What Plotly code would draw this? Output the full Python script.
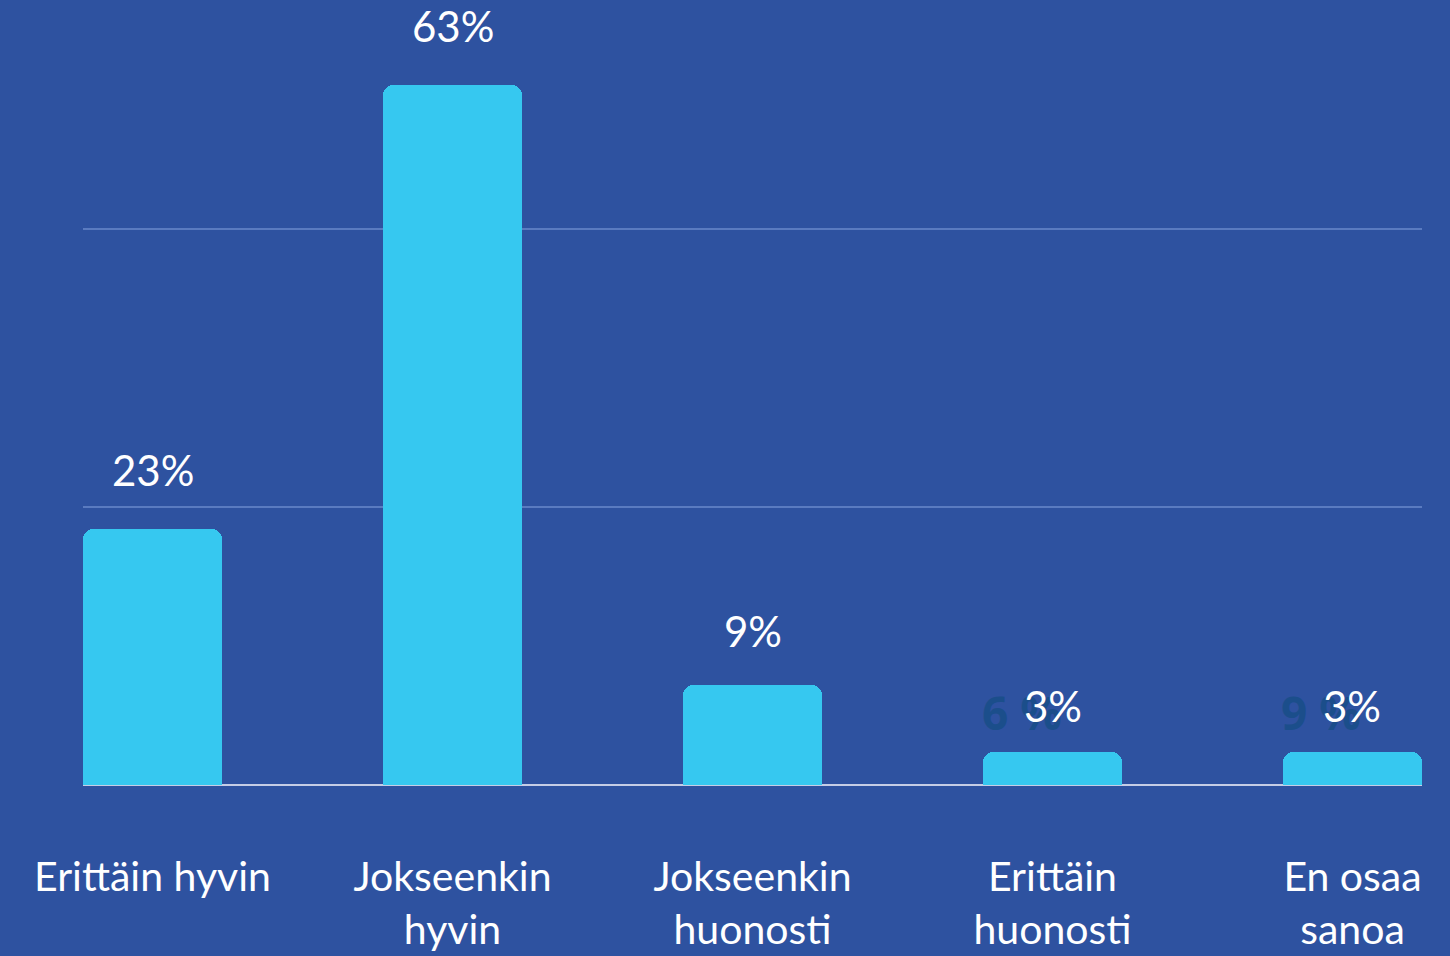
import plotly.graph_objects as go

categories = ["Erittäin hyvin", "Jokseenkin<br>hyvin", "Jokseenkin<br>huonosti",
              "Erittäin<br>huonosti", "En osaa<br>sanoa"]
values = [23, 63, 9, 3, 3]
labels = ["23%", "63%", "9%", "3%", "3%"]
# faint leftover labels visible behind the two smallest bars
ghost_idx = [3, 4]
ghost_labels = ["6 %", "9 %"]

BG = "#2e52a0"
BAR = "#36c8f0"
FONT = "Lato"
# labels over the short bars sit a bit lower in the original
label_yshift = {0: 32, 1: 32, 2: 27, 3: 19, 4: 19}

xpos = list(range(len(categories)))

fig = go.Figure()
fig.add_trace(go.Bar(
    x=xpos, y=values,
    width=0.4633,
    marker=dict(color=BAR, cornerradius=10, line_width=0),
    hoverinfo="skip",
))

annotations = []
for i, t in zip(ghost_idx, ghost_labels):
    annotations.append(dict(
        x=i, y=values[i], xref="x", yref="y", text="<b>" + t + "</b>", showarrow=False,
        yanchor="bottom", yshift=7, xshift=-31,
        font=dict(family="Open Sans", size=46, color="#1b4e8b", weight=800),
    ))
for i, (v, t) in enumerate(zip(values, labels)):
    annotations.append(dict(
        x=i, y=v, xref="x", yref="y", text=t, showarrow=False,
        yanchor="bottom", yshift=label_yshift[i],
        font=dict(family=FONT, size=42, color="white"),
    ))

fig.update_layout(
    width=1450, height=956,
    paper_bgcolor=BG, plot_bgcolor=BG,
    margin=dict(l=83, r=28, t=29, b=171),
    showlegend=False,
    bargap=0,
    annotations=annotations,
    font=dict(family=FONT, color="white"),
)
fig.update_xaxes(
    range=[-0.2317, 4.2317],
    tickvals=xpos, ticktext=categories,
    tickfont=dict(family=FONT, size=41, color="white"),
    showgrid=False, zeroline=False, showline=False,
    ticks="", ticklabelstandoff=64, automargin=False,
)
fig.update_yaxes(
    range=[0, 68], dtick=25,
    showgrid=True, gridcolor="#5a7bc0", gridwidth=1.5,
    zeroline=True, zerolinecolor="#c5cde6", zerolinewidth=1.5,
    showticklabels=False, ticks="", automargin=False,
)

fig.write_html("out.html", config={"displayModeBar": False},
               post_script="document.body.style.margin='0';document.body.style.overflow='hidden';")
